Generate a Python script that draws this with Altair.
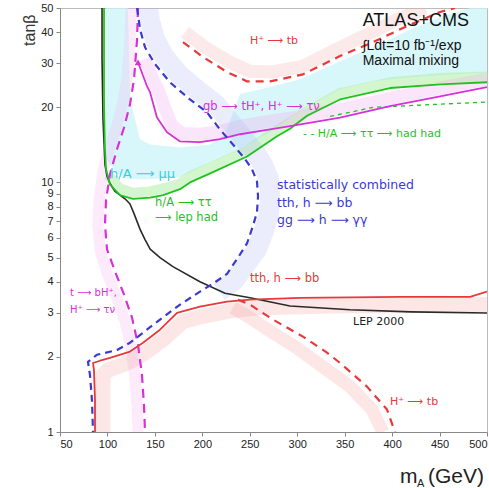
import altair as alt
import pandas as pd

FONT = "Liberation Sans"
LFONT = "DejaVu Sans"

# ---------------- data: m_A (GeV) and tan(beta) ----------------
LEP_MA = [94.3, 94.3, 95.3, 97.4, 99.5, 102.7, 108.0, 118.5, 123.8, 128.0, 134.3, 139.6, 145.0,
          155.4, 169.0, 197.5, 223.9, 250.2, 292.4, 355.6, 420.0, 500.0]
LEP_TB = [50, 31.2, 17.9, 11.8, 10.6, 9.9, 9.2, 8.6, 8.2, 7.5, 6.5, 5.9, 5.4,
          5.0, 4.6, 4.0, 3.6, 3.45, 3.2, 3.09, 3.03, 3.0]

LEPHAD_MA = [96.4, 96.4, 97.4, 98.5, 102.7, 113.2, 126.9, 144.9, 158.6, 176.5, 187.0, 211.2,
             247.1, 278.7, 292.4, 310.3, 345.1, 397.8, 450.5, 500.0]
LEPHAD_TB = [50, 21.5, 13.6, 11.3, 9.8, 8.9, 8.6, 8.7, 8.9, 9.4, 10.0, 11.0,
             12.7, 15.3, 16.4, 18.5, 21.5, 23.9, 24.7, 25.2]
LEPHAD_BAND_MA = [100.6, 113.2, 126.9, 144.9, 158.6, 176.5, 187.0, 211.2, 247.1, 278.7, 294.5,
                  313.5, 345.1, 397.8, 450.5, 500.0]
LEPHAD_BAND_TB = [10.7, 9.46, 9.1, 9.2, 9.46, 9.9, 10.6, 11.6, 13.4, 16.2, 17.6,
                  19.5, 22.8, 25.2, 26.2, 26.6]

HADHAD_MA = [334.6, 355.6, 379.9, 440.0, 500.0]
HADHAD_TB = [18.4, 19.1, 20.0, 20.5, 21.0]

MUMU_MA = [98.5, 111.1, 121.7, 123.8, 134.3, 144.9, 176.5, 208.1, 223.9, 239.7, 271.3, 302.9,
           345.1, 379.9, 397.8, 415.7, 450.5, 482.1, 500.0]
MUMU_LO = [12.4, 10.8, 10.4, 10.3, 10.3, 10.3, 10.5, 12.0, 12.7, 13.6, 15.9, 19.3,
           23.6, 25.4, 25.9, 26.3, 26.9, 27.3, 27.4]
MUMU_HI = [50, 50, 50, 21.5, 14.9, 14.2, 13.8, 14.2, 15.6, 22.6, 24.1, 25.9,
           30.6, 34.8, 37.5, 40.4, 46.0, 50, 50]

GBTAU_MA = [132.2, 141.7, 144.9, 152.2, 162.8, 176.5, 197.5, 218.6, 239.7, 271.3, 292.4,
            345.1, 397.8, 450.5, 500.0]
GBTAU_TB = [30.3, 24.3, 23.0, 18.2, 15.9, 14.6, 14.5, 14.9, 15.6, 16.3, 16.8,
            18.2, 20.2, 22.1, 24.1]
GBTAU_BAND_MA = [139.6, 149.1, 153.3, 161.7, 168.0, 178.6, 197.5, 218.6, 239.7, 271.3, 292.4,
                 345.1, 397.8, 450.5, 500.0]
GBTAU_BAND_TB = [31.2, 25.2, 23.6, 19.3, 16.9, 15.7, 15.6, 16.0, 16.8, 17.6, 18.1,
                 19.6, 21.7, 23.9, 25.9]

TBH_MA = [132.2, 131.2, 128.0, 123.8, 117.5, 110.1, 102.7, 98.5, 97.4, 99.5, 108.0, 117.5,
          125.9, 132.2, 136.4, 138.5, 139.6]
TBH_TB = [50, 37.5, 25.9, 20.6, 16.6, 13.6, 10.8, 8.5, 6.8, 5.4, 4.4, 3.55,
          2.87, 2.24, 1.69, 1.28, 1.0]
TBH_BAND_MA = [124.8, 123.8, 120.6, 116.4, 110.1, 102.7, 95.3, 91.1, 90.0, 92.2, 100.6, 110.1,
               118.5, 124.8, 129.0, 131.2, 132.2]
TBH_BAND_TB = [50, 37.5, 25.9, 21.0, 16.9, 13.9, 11.1, 8.5, 6.8, 5.3, 4.23, 3.42,
               2.77, 2.17, 1.66, 1.28, 1.0]

COMB_MA = [131.2, 134.3, 139.6, 150.1, 165.9, 187.0, 204.9, 218.6, 232.3, 245.0, 252.3, 257.6,
           258.7, 257.6, 253.4, 247.1, 237.6, 226.0, 211.2, 197.5, 176.5, 155.4, 137.5,
           123.8, 110.1, 89.0, 79.5, 81.6, 83.7, 84.8]
COMB_TB = [50, 41.2, 34.8, 29.8, 25.2, 21.5, 19.1, 16.3, 14.2, 12.4, 11.3, 10.1,
           8.8, 7.6, 6.7, 5.7, 5.0, 4.3, 3.93, 3.65, 3.24, 2.82, 2.50,
           2.28, 2.13, 2.04, 1.91, 1.69, 1.34, 1.0]
COMB_BAND_MA = [142.7, 144.9, 150.1, 159.6, 175.4, 196.5, 214.4, 228.1, 241.8, 255.5, 263.9,
                270.3, 271.3, 270.3, 265.0, 257.6, 246.0, 233.4, 217.6]
COMB_BAND_TB = [50, 44.3, 37.5, 32.1, 27.1, 23.2, 20.6, 17.7, 15.3, 13.2, 11.8,
                10.3, 8.8, 7.5, 6.4, 5.4, 4.7, 4.04, 3.65]

TTH_MA = [86.9, 86.9, 85.8, 84.8, 92.2, 102.7, 123.8, 137.5, 155.4, 173.3, 197.5, 226.0,
          250.2, 302.9, 408.3, 482.1, 500.0]
TTH_TB = [1.0, 1.34, 1.77, 1.89, 1.93, 1.98, 2.10, 2.28, 2.57, 3.0, 3.18, 3.33,
          3.39, 3.45, 3.48, 3.48, 3.65]
TTH_BAND_MA = [95.3, 95.3, 100.6, 123.8, 141.7, 160.7, 179.6, 202.8, 229.2, 260.8, 334.6, 500.0]
TTH_BAND_TB = [1.0, 1.69, 1.77, 1.91, 2.10, 2.38, 2.77, 2.92, 3.06, 3.15, 3.2, 3.24]

HTB_HI_MA = [179.6, 200.7, 226.0, 247.1, 271.3, 306.1, 345.1, 379.9, 415.7, 450.5, 466.3]
HTB_HI_TB = [36.5, 31.8, 27.7, 25.4, 25.4, 27.1, 32.1, 36.5, 42.3, 48.2, 50]
HTB_HI_BAND_MA = [181.7, 202.8, 229.2, 250.2, 273.4, 306.1, 341.9, 374.6, 406.2, 434.7]
HTB_HI_BAND_TB = [40.0, 34.8, 30.3, 27.9, 27.7, 29.2, 34.2, 39.3, 45.1, 50]

HTB_LO_MA = [237.6, 250.2, 274.5, 306.1, 331.4, 345.1, 373.6, 394.6, 403.0]
HTB_LO_TB = [3.39, 3.24, 2.82, 2.41, 2.08, 1.89, 1.52, 1.23, 1.0]
HTB_LO_BAND_MA = [232.3, 247.1, 269.2, 299.8, 324.0, 355.6, 378.8, 390.4]
HTB_LO_BAND_TB = [3.15, 2.92, 2.57, 2.17, 1.86, 1.52, 1.23, 1.0]

X_TICKS = [50, 100, 150, 200, 250, 300, 350, 400, 450, 500]
Y_TICKS = [1, 2, 3, 4, 5, 6, 7, 8, 9, 10, 20, 30, 40, 50]

# ---------------- encodings ----------------
xscale = alt.Scale(domain=[50, 500], nice=False, zero=False)
yscale = alt.Scale(type="log", domain=[1, 50], nice=False)
xaxis = alt.Axis(values=X_TICKS, title=None, grid=False, labelFont=FONT, labelFontSize=11,
                 labelColor="#222", tickColor="#888", domainColor="#888", tickSize=4,
                 labelPadding=2)
yaxis = alt.Axis(values=Y_TICKS, format="d", title="tanβ", titleFont=FONT,
                 titleFontSize=16, titleFontWeight="normal", titleColor="#333",
                 titleX=-31, titleY=6, titleAlign="right", titleBaseline="middle",
                 titleAngle=270,
                 grid=False, labelFont=FONT, labelFontSize=11, labelColor="#222",
                 tickColor="#888", domainColor="#888", tickSize=4, labelPadding=3)
X = alt.X("x:Q", scale=xscale, axis=xaxis)
Y = alt.Y("y:Q", scale=yscale, axis=yaxis)


def frame(xs, ys):
    return pd.DataFrame({"x": xs, "y": ys, "i": list(range(len(xs)))})


def curve(xs, ys, color, width, dash=None, opacity=1.0):
    kw = dict(color=color, strokeWidth=width, clip=True, opacity=opacity,
              strokeJoin="round", strokeCap="butt")
    if dash:
        kw["strokeDash"] = dash
    return alt.Chart(frame(xs, ys)).mark_line(**kw).encode(x=X, y=Y, order="i:Q")


def band(xs, ys, color, width, opacity):
    return curve(xs, ys, color, width, opacity=opacity)


def labels(texts, xs, ys, color, size, font=LFONT, weight="normal"):
    df = pd.DataFrame({"x": xs, "y": ys, "t": texts})
    return alt.Chart(df).mark_text(align="left", baseline="middle", font=font, fontSize=size,
                                   color=color, fontWeight=weight).encode(x=X, y=Y, text="t:N")


RED = "#e8383a"
MAG = "#d92fd9"
BLUE = "#3a3ad0"
GREEN = "#1fc21f"
CYAN = "#33d0df"
AR = "⟶"

mumu = alt.Chart(pd.DataFrame({"x": MUMU_MA, "y": MUMU_LO, "y2": MUMU_HI})).mark_area(
    color="#cbf4f8", opacity=0.75, clip=True).encode(x=X, y=Y, y2="y2:Q")

layers = [
    mumu,
    band(LEPHAD_BAND_MA, LEPHAD_BAND_TB, "#b0eea8", 10, 0.55),
    band(TBH_BAND_MA, TBH_BAND_TB, "#f6b0f0", 11, 0.25),
    band(GBTAU_BAND_MA, GBTAU_BAND_TB, "#f2a8ee", 13, 0.3),
    band(COMB_BAND_MA, COMB_BAND_TB, "#b0b6f2", 20, 0.25),
    band(TTH_BAND_MA, TTH_BAND_TB, "#f4a6a6", 15, 0.28),
    band(HTB_HI_BAND_MA, HTB_HI_BAND_TB, "#f4a6a6", 13, 0.25),
    band(HTB_LO_BAND_MA, HTB_LO_BAND_TB, "#f4a6a6", 13, 0.28),
    curve(HADHAD_MA, HADHAD_TB, GREEN, 1.3, dash=[4, 4]),
    curve(LEP_MA, LEP_TB, "#2a2a2a", 1.6),
    curve(LEPHAD_MA, LEPHAD_TB, GREEN, 1.8),
    curve(GBTAU_MA, GBTAU_TB, MAG, 1.8),
    curve(TBH_MA, TBH_TB, MAG, 2.2, dash=[9, 6]),
    curve(TTH_MA, TTH_TB, RED, 1.8),
    curve(HTB_HI_MA, HTB_HI_TB, RED, 2.2, dash=[8, 6]),
    curve(HTB_LO_MA, HTB_LO_TB, RED, 2.2, dash=[8, 6]),
    curve(COMB_MA, COMB_TB, BLUE, 2.2, dash=[7, 5]),
    alt.Chart(frame([GBTAU_MA[0]], [GBTAU_TB[0]])).mark_point(
        shape="triangle-up", filled=True, size=45, color=MAG, opacity=1).encode(x=X, y=Y),
    labels(["ATLAS+CMS"], [369], [44.3], "#111", 18, font=FONT),
    labels(["∫Ldt=10 fb⁻¹/exp"], [369], [35.2], "#111", 14, font=FONT),
    labels(["Maximal mixing"], [369], [30.6], "#111", 14, font=FONT),
    labels([f"H⁺ {AR} tb"], [250.2], [36.8], RED, 11),
    labels([f"gb {AR} tH⁺, H⁺ {AR} τν"], [200.7], [20.0], MAG, 11.5),
    labels([f"- - H/A {AR} ττ {AR} had had"], [306], [15.6], GREEN, 11),
    labels([f"h/A {AR} μμ"], [102.7], [10.8], CYAN, 13),
    labels([f"h/A {AR} ττ", f"{AR} lep had"], [150.1, 150.1], [8.3, 7.2], GREEN, 11.5),
    labels(["statistically combined", f"tth, h {AR} bb", f"gg {AR} h {AR} γγ"],
           [278.7, 278.7, 278.7], [9.8, 8.3, 7.1], BLUE, 12.5),
    labels([f"tth, h {AR} bb"], [250.2], [4.1], RED, 11.5),
    labels(["LEP 2000"], [358.8], [2.77], "#222", 11),
    labels([f"H⁺ {AR} tb"], [397.8], [1.32], RED, 11),
    labels([f"t {AR} bH⁺,", f"H⁺ {AR} τν"], [60.5, 60.5], [3.6, 3.09], MAG, 10),
    alt.Chart(frame([0], [1])).mark_text(text="m", font=FONT, fontSize=21, align="left",
                                         baseline="alphabetic", color="#222").encode(
        x=alt.value(340), y=alt.value(475)),
    alt.Chart(frame([0], [1])).mark_text(text="A", font=FONT, fontSize=11, align="left",
                                         baseline="alphabetic", color="#222").encode(
        x=alt.value(357), y=alt.value(479)),
    alt.Chart(frame([0], [1])).mark_text(text="(GeV)", font=FONT, fontSize=21, align="left",
                                         baseline="alphabetic", color="#222").encode(
        x=alt.value(368), y=alt.value(475)),
]

chart = alt.layer(*layers).properties(
    width=427, height=424,
    padding={"left": 60, "top": 8, "right": 2, "bottom": 56},
    autosize="none",
).configure_view(stroke="#bbbbbb", strokeWidth=1)

chart.save("out.html", embed_options={"renderer": "svg", "actions": False})
